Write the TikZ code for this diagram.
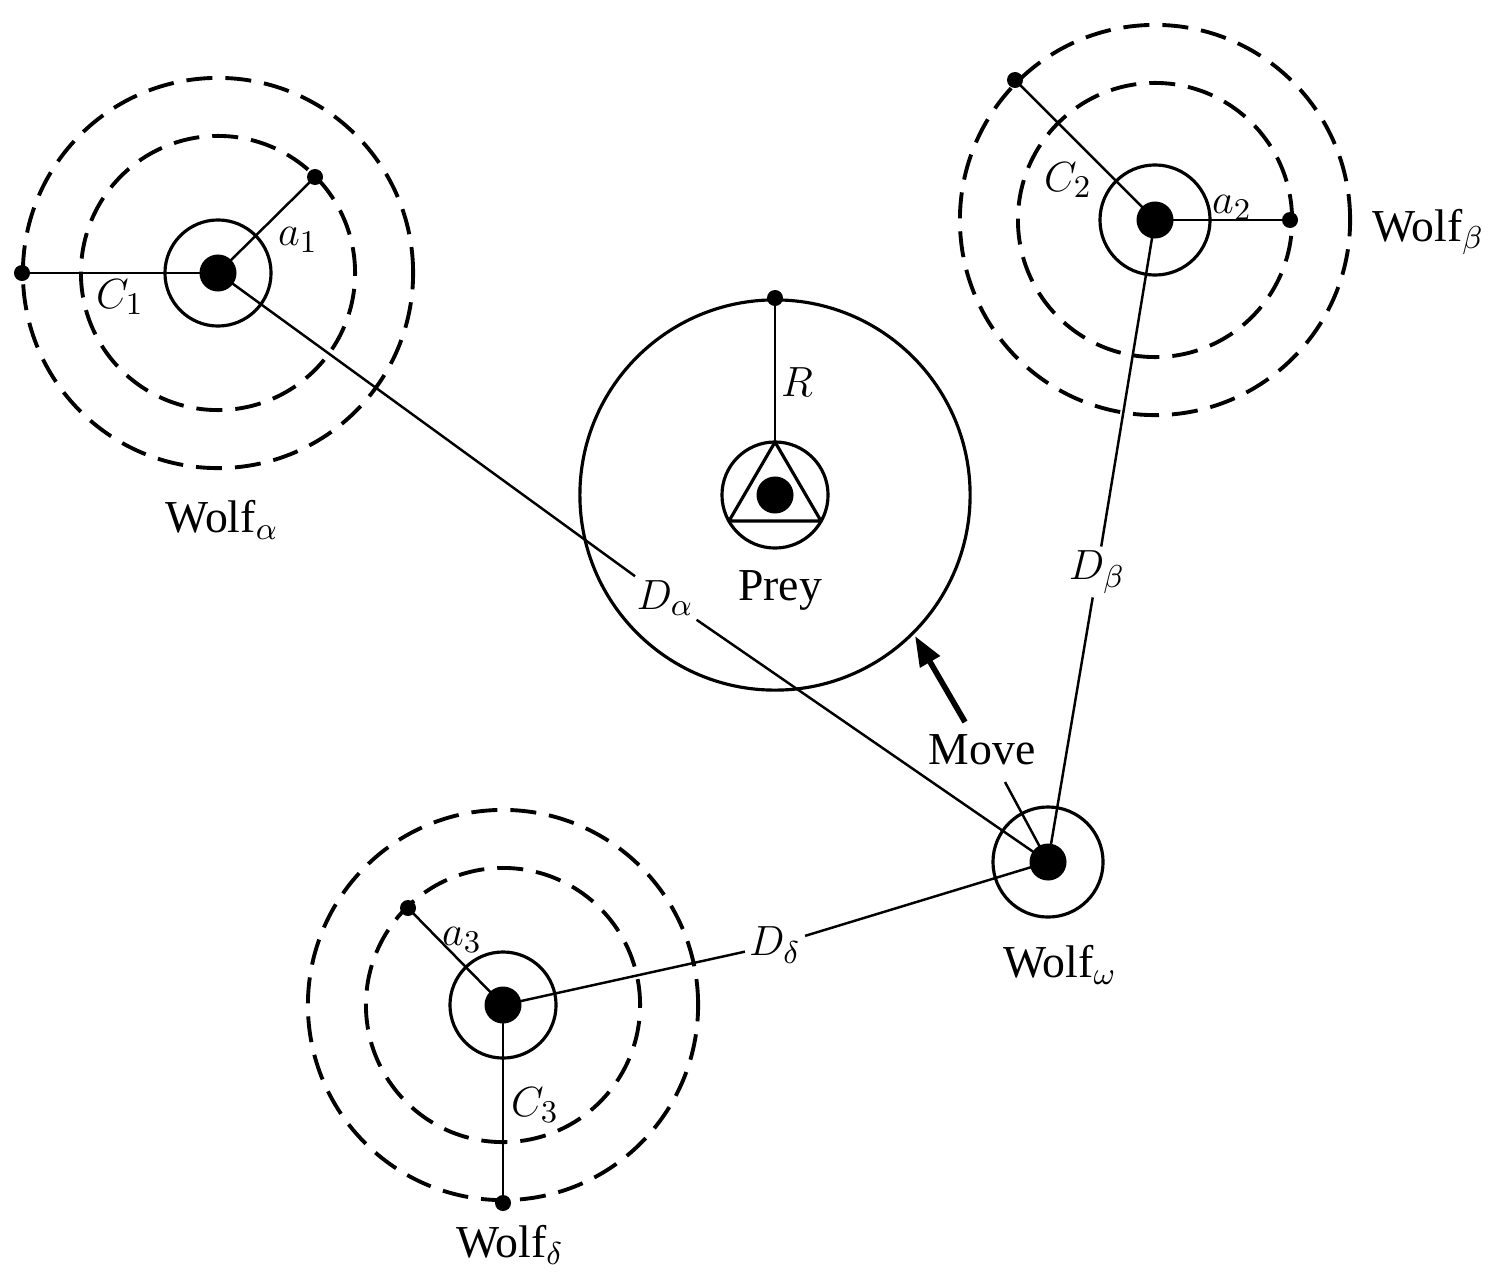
\documentclass[tikz,border=0pt]{standalone}
\usepackage{fontspec}
\setmainfont{Liberation Serif}
\usetikzlibrary{arrows.meta}
\begin{document}
\begin{tikzpicture}[x=0.01cm,y=-0.01cm,
  ln/.style={line width=0.7pt},
  sc/.style={line width=0.9pt},
  dc/.style={line width=1.1pt,dash pattern=on 0.26cm off 0.13cm},
  bigdot/.style={circle,fill=black,inner sep=0pt,minimum size=0.37cm},
  smdot/.style={circle,fill=black,inner sep=0pt,minimum size=0.16cm},
  lab/.style={font=\fontsize{13}{15}\selectfont,inner sep=1pt},
  gap/.style={lab,fill=white}]
\useasboundingbox (0,0) rectangle (1495,1282);
% centers
\node[bigdot] (A) at (218,273) {};
\node[bigdot] (B) at (1155,220) {};
\node[bigdot] (P) at (775,495) {};
\node[bigdot] (O) at (1048,862) {};
\node[bigdot] (Dl) at (503,1005) {};
% connectors to omega (behind labels)
\node[gap] (Da) at (665,598) {$D_\alpha$};
\node[gap] (Db) at (1097,572) {$D_\beta$};
\node[gap] (Dd) at (775,945) {$D_\delta$};
\draw[ln] (A.center) -- (Da);
\draw[ln] (Da) -- (O.center);
\draw[ln] (B.center) -- (Db);
\draw[ln] (Db) -- (O.center);
\draw[ln] (Dl.center) -- (Dd);
\draw[ln] (Dd) -- (O.center);
% alpha
\draw[sc] (A.center) circle[radius=0.53cm];
\draw[dc] (A.center) circle[radius=1.37cm];
\draw[dc] (A.center) circle[radius=1.95cm];
\node[smdot] (A1) at (22,273) {};
\node[smdot] (A2) at (315,177) {};
\draw[ln] (A.center) -- (A1.center);
\draw[ln] (A.center) -- (A2.center);
\node[lab] (c1) at (120,297) {$C_1$};
\node[lab] (a1) at (298,240) {$a_1$};
\node[lab] (wa) at (222,520) {Wolf$_\alpha$};
% beta
\draw[sc] (B.center) circle[radius=0.55cm];
\draw[dc] (B.center) circle[radius=1.37cm];
\draw[dc] (B.center) circle[radius=1.95cm];
\node[smdot] (B1) at (1015,80) {};
\node[smdot] (B2) at (1290,220) {};
\draw[ln] (B.center) -- (B1.center);
\draw[ln] (B.center) -- (B2.center);
\node[lab] (c2) at (1068,180) {$C_2$};
\node[lab] (a2) at (1232,208) {$a_2$};
\node[lab] (wb) at (1428,232) {Wolf$_\beta$};
% prey
\draw[sc] (P.center) circle[radius=0.53cm];
\draw[sc] (P.center) circle[radius=1.95cm];
\coordinate (T1) at (775,442);
\coordinate (T2) at (729,521);
\coordinate (T3) at (821,521);
\draw[sc,line join=round] (T1) -- (T2) -- (T3) -- cycle;
\node[smdot] (R1) at (775,298) {};
\draw[ln] (T1) -- (R1.center);
\node[lab] (r) at (797,382) {$R$};
\node[lab] (pr) at (780,590) {Prey};
% omega
\draw[sc] (O.center) circle[radius=0.55cm];
\node[lab] (wo) at (1060,965) {Wolf$_\omega$};
\node[lab] (mv) at (982,750) {Move};
\coordinate (m1) at (965,722);
\coordinate (m2) at (915,636);
\draw[line width=1.6pt,-{Triangle[length=0.3cm,width=0.22cm]}] (m1) -- (m2);
\draw[ln] (1005,782) -- (O.center);
% delta
\draw[sc] (Dl.center) circle[radius=0.53cm];
\draw[dc] (Dl.center) circle[radius=1.37cm];
\draw[dc] (Dl.center) circle[radius=1.95cm];
\node[smdot] (D1) at (408,908) {};
\node[smdot] (D2) at (503,1203) {};
\draw[ln] (Dl.center) -- (D1.center);
\draw[ln] (Dl.center) -- (D2.center);
\node[lab] (a3) at (462,940) {$a_3$};
\node[lab] (c3) at (535,1105) {$C_3$};
\node[lab] (wd) at (510,1245) {Wolf$_\delta$};
\end{tikzpicture}
\end{document}
